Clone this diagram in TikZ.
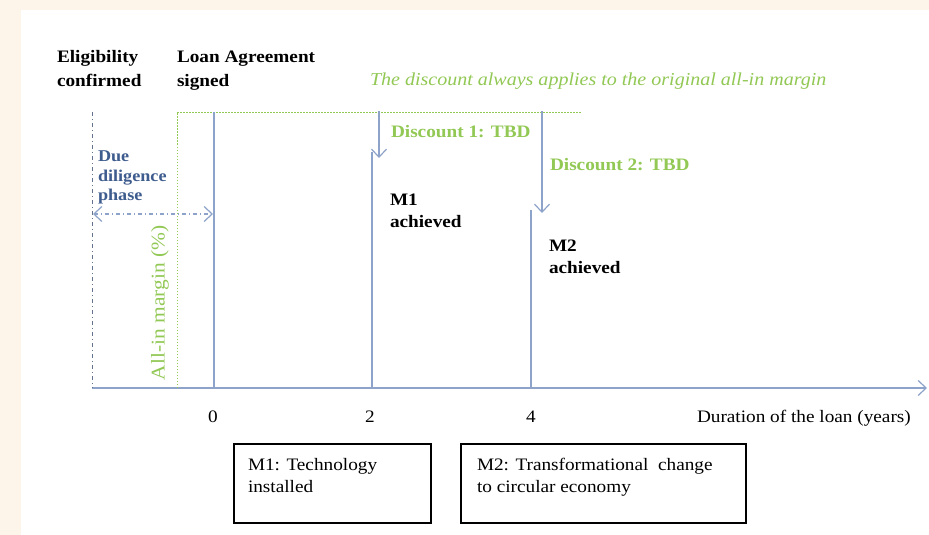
\documentclass[tikz,border=0pt]{standalone}
\usepackage{fontspec}
\setmainfont{Liberation Serif}[FakeStretch=1.1]
\usetikzlibrary{arrows.meta}
\definecolor{paper}{RGB}{253,245,234}
\definecolor{axisblue}{RGB}{141,163,201}
\definecolor{phaseblue}{RGB}{62,92,142}
\definecolor{notegreen}{RGB}{146,200,84}
\begin{document}
\begin{tikzpicture}[
    x=1pt,y=-1pt,
    every node/.style={inner sep=0pt,outer sep=0pt},
    headtxt/.style={font=\bfseries\fontsize{17.5}{24}\selectfont,align=left,anchor=base west},
    greentxt/.style={headtxt,text=notegreen},
    phasetxt/.style={font=\bfseries\fontsize{16.5}{19.5}\selectfont,align=left,anchor=base west,text=phaseblue},
    plaintxt/.style={font=\fontsize{17.5}{22}\selectfont,align=left},
    milebox/.style={draw,line width=2.8pt,minimum height=79pt},
    bline/.style={draw=axisblue,line width=1.6pt},
    tip/.style={-{Straight Barb[length=8pt,width=15pt,line width=1.2pt]}},
]
% background and page
\fill[paper] (0,0) rectangle (929,535);
\fill[white] (21,10) rectangle (929,535);

% headings (base = last line)
\node[headtxt] (elig) at (57,86.5) {Eligibility\\confirmed};
\node[headtxt] (signed) at (177,86.5) {Loan Agreement\\signed};
\node[plaintxt,anchor=base west,text=notegreen,font=\itshape\fontsize{18.2}{22}\selectfont] (note) at (370,85)
  {The discount always applies to the original all-in margin};

% axes
\coordinate (origin) at (92,388);
\coordinate (xend) at (927,388);
\coordinate (ytop) at (92,112);
\draw[bline,tip] (origin) -- (xend);
\draw[draw=axisblue!70!black,line width=1pt,dash pattern=on 4pt off 3pt on 1pt off 3pt] (ytop) -- (origin);

% original margin (green dotted)
\coordinate (gbase) at (177,388);
\coordinate (gtop) at (177,112);
\coordinate (gend) at (582,112);
\draw[notegreen,line width=1pt,dash pattern=on 1.5pt off 1.5pt] (gbase) -- (gtop) -- (gend);
\node[plaintxt,text=notegreen,rotate=90,anchor=center,font=\fontsize{19.5}{22}\selectfont] (margin) at (160,303) {All-in margin (\%)};

% milestones on the time line
\coordinate (s0) at (214,112);  \coordinate (b0) at (214,388);
\coordinate (s1) at (372,152);  \coordinate (b1) at (372,388);
\coordinate (s2) at (531,210);  \coordinate (b2) at (531,388);
\draw[bline] (s0) -- (b0);
\draw[bline] (s1) -- (b1);
\draw[bline] (s2) -- (b2);

% discount steps
\coordinate (d1a) at (379,111); \coordinate (d1b) at (379,158);
\coordinate (d2a) at (542,111); \coordinate (d2b) at (542,213);
\draw[bline,tip] (d1a) -- (d1b);
\draw[bline,tip] (d2a) -- (d2b);
\node[greentxt] (disc1) at (391,137) {Discount 1: TBD};
\node[greentxt] (disc2) at (550,170) {Discount 2: TBD};
\node[headtxt,font=\bfseries\fontsize{17.5}{22}\selectfont] (m1) at (390,227) {M1\\achieved};
\node[headtxt,font=\bfseries\fontsize{17.5}{22}\selectfont] (m2) at (549,273) {M2\\achieved};

% due diligence
\node[phasetxt] (due) at (98,200.5) {Due\\diligence\\phase};
\coordinate (dda) at (93,214); \coordinate (ddb) at (213,214);
\draw[draw=axisblue,line width=1.2pt,dash pattern=on 4pt off 3pt on 1pt off 3pt,
  {Straight Barb[length=8pt,width=15pt,line width=1.2pt]}-{Straight Barb[length=8pt,width=15pt,line width=1.2pt]}] (dda) -- (ddb);

% ticks
\node[plaintxt,anchor=base] (t0) at (213,422) {0};
\node[plaintxt,anchor=base] (t2) at (370,422) {2};
\node[plaintxt,anchor=base] (t4) at (531,422) {4};
\node[plaintxt,anchor=base west] (dur) at (697,422) {Duration of the loan (years)};

% milestone boxes
\node[milebox,minimum width=197pt] (box1) at (332.5,483.5) {};
\node[milebox,minimum width=285pt] (box2) at (603.5,483.5) {};
\node[plaintxt,anchor=base west] (box1txt) at (248,492) {M1: Technology\\installed};
\node[plaintxt,anchor=base west] (box2txt) at (477,492) {M2: Transformational\ \ change\\to circular economy};
\end{tikzpicture}
\end{document}
